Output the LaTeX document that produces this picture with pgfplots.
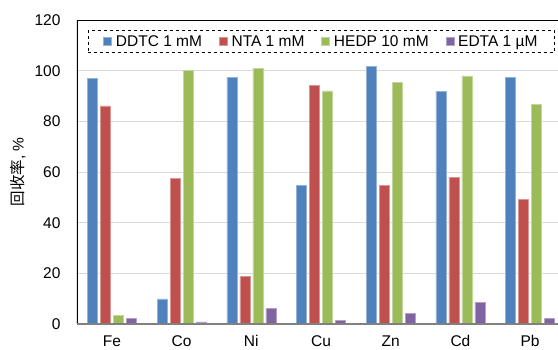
\documentclass[border=0pt]{standalone}
\usepackage{pgfplots}
\pgfplotsset{compat=1.18}
\usepackage{fontspec}
\setmainfont{Liberation Sans}
\newfontfamily\cjk{Noto Sans CJK SC}
\definecolor{cddtc}{HTML}{4F81BD}
\definecolor{cnta}{HTML}{C0504D}
\definecolor{chedp}{HTML}{9BBB59}
\definecolor{cedta}{HTML}{8064A2}
\definecolor{gridc}{HTML}{D9D9D9}
\definecolor{basec}{HTML}{808080}

\begin{document}
\begin{tikzpicture}
\begin{axis}[
  width=481pt, height=304pt, scale only axis,
  xmin=-0.5, xmax=6.4, ymin=0, ymax=120,
  ybar=3pt, bar width=10pt,
  axis line style={draw=none},
  xtick={0,...,6}, xticklabels={Fe,Co,Ni,Cu,Zn,Cd,Pb},
  ytick={0,20,...,120},
  major tick length=0pt,
  ymajorgrids, grid style={color=gridc, line width=0.8pt},
  tick label style={font=\fontsize{15.5}{18}\selectfont},
  xticklabel style={yshift=-8pt},
  yticklabel style={xshift=-13pt},
  /pgf/number format/assume math mode=true,
  ylabel={{\cjk 回收率}, \%},
  every axis y label/.style={at={(axis description cs:-0.1227,0.5)}, rotate=90, anchor=center,
    font=\fontsize{15.5}{18}\selectfont},
  legend columns=4,
  legend image code/.code={\fill[#1] (0pt,-4pt) rectangle (8pt,4pt);},
  legend style={at={(axis description cs:0.023,0.967)}, anchor=north west,
    draw=black, dashed, line width=0.8pt, fill=white,
    inner xsep=15pt, inner ysep=3pt,
    font=\fontsize{15.5}{18}\selectfont,
    nodes={inner sep=2pt},
    /tikz/every odd column/.append style={column sep=2pt},
    /tikz/every even column/.append style={column sep=15pt}},
]
\addplot[fill=cddtc, draw=cddtc!60!white, line width=0.5pt] coordinates {
  (0,97.0) (1,9.9) (2,97.5) (3,54.6) (4,101.7) (5,91.7) (6,97.5)};
\addlegendentry{DDTC 1 mM}
\addplot[fill=cnta, draw=cnta!60!white, line width=0.5pt] coordinates {
  (0,86.1) (1,57.5) (2,18.7) (3,94.2) (4,54.6) (5,58.0) (6,49.3)};
\addlegendentry{NTA 1 mM}
\addplot[fill=chedp, draw=chedp!60!white, line width=0.5pt] coordinates {
  (0,3.4) (1,100.0) (2,101.0) (3,92.0) (4,95.4) (5,97.9) (6,86.8)};
\addlegendentry{HEDP 10 mM}
\addplot[fill=cedta, draw=cedta!60!white, line width=0.5pt] coordinates {
  (0,2.2) (1,0.8) (2,6.3) (3,1.4) (4,4.1) (5,8.6) (6,2.2)};
\addlegendentry{EDTA 1 µM}
\draw[black, line width=1.8pt] (rel axis cs:0,0) -- (rel axis cs:0,1) -- (rel axis cs:1,1);
\draw[basec, line width=1.8pt] (rel axis cs:0,0) -- (rel axis cs:1,0);
\end{axis}
\pgfresetboundingbox
\path ([xshift=-77pt,yshift=-25pt]current axis.south west) rectangle ([yshift=20pt]current axis.north east);
\end{tikzpicture}
\end{document}
